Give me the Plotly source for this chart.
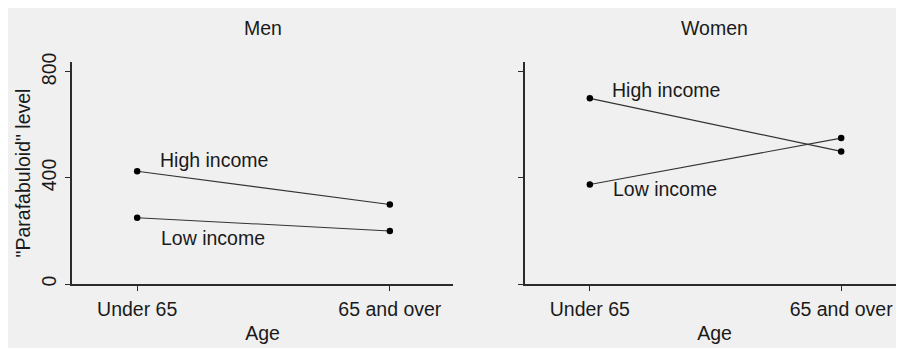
import plotly.graph_objects as go

age_groups = ["Under 65", "65 and over"]
men_high = [425, 300]
men_low = [250, 200]
women_high = [700, 500]
women_low = [375, 550]
panel_titles = ["Men", "Women"]
series_labels = ["High income", "Low income"]
y_ticks = [0, 400, 800]

FONT = "Liberation Sans, Arial, sans-serif"
FS = 19.5
TXT = "#1a1a1a"
LINE = "#333333"
AX = "#2b2b2b"

# page body has an 8px margin; lay the figure out in page coordinates minus 8
OFF = 8
W, H = 904 - OFF, 350 - OFF
ML = 72 - OFF
MT = 62 - OFF
MB = H - (284 - OFF)
MR = 0
PW = W - ML - MR
PH = H - MT - MB

def px_x(p):
    return (p - OFF - ML) / PW

def px_y(p):
    return ((284 - OFF) - (p - OFF)) / PH

fig = go.Figure()

def add_series(vals, xa, ya):
    fig.add_trace(go.Scatter(
        x=age_groups, y=vals, xaxis=xa, yaxis=ya, mode="lines+markers",
        line=dict(color=LINE, width=1.1),
        marker=dict(color="black", size=6.5),
        showlegend=False, hoverinfo="skip"))

add_series(men_high, "x", "y")
add_series(men_low, "x", "y")
add_series(women_high, "x2", "y2")
add_series(women_low, "x2", "y2")

xcommon = dict(
    type="category", categoryarray=age_groups, range=[-0.258, 1.25],
    showline=True, linecolor=AX, linewidth=1.5, ticks="outside", ticklen=5,
    tickwidth=1.2, tickcolor=AX, showgrid=False, zeroline=False,
    ticklabelstandoff=2,
    tickfont=dict(family=FONT, size=FS, color=TXT),
    title=dict(text="Age", font=dict(family=FONT, size=FS, color=TXT), standoff=7),
)
ycommon = dict(
    range=[0, 837], tickvals=y_ticks, showline=True, linecolor=AX, linewidth=1.5,
    ticks="outside", ticklen=5, tickwidth=1.2, tickcolor=AX, showgrid=False,
    zeroline=False, tickangle=-90, ticklabelstandoff=1,
    tickfont=dict(family=FONT, size=FS, color=TXT),
)

fig.update_layout(
    width=W, height=H, autosize=False,
    margin=dict(l=ML, r=MR, t=MT, b=MB, pad=0),
    paper_bgcolor="#f0f0f0", plot_bgcolor="rgba(0,0,0,0)",
    font=dict(family=FONT, size=FS, color=TXT),
    xaxis=dict(domain=[0, px_x(453)], anchor="y", **xcommon),
    xaxis2=dict(domain=[px_x(525), 1], anchor="y2", **xcommon),
    yaxis=dict(domain=[0, 1], anchor="x", showticklabels=True,
               title=dict(text='"Parafabuloid" level',
                          font=dict(family=FONT, size=FS, color=TXT), standoff=3),
               **ycommon),
    yaxis2=dict(domain=[0, 1], anchor="x2", showticklabels=False, **ycommon),
    shapes=[dict(type="rect", xref="paper", yref="paper", layer="below",
                 x0=px_x(0), x1=px_x(904), y0=px_y(348), y1=px_y(350),
                 fillcolor="white", line=dict(width=0))],
)

# panel titles
for title, (a, b) in zip(panel_titles, [(72, 453), (525, 904)]):
    fig.add_annotation(text=title, xref="paper", yref="paper",
                       x=px_x((a + b) / 2), y=px_y(28), xanchor="center",
                       yanchor="middle", showarrow=False,
                       font=dict(family=FONT, size=FS, color=TXT))

# series labels next to lines
label_pos = [
    ("x", "y", series_labels[0], 0.087, 468),
    ("x", "y", series_labels[1], 0.091, 172),
    ("x2", "y2", series_labels[0], 0.083, 733),
    ("x2", "y2", series_labels[1], 0.089, 360),
]
for xa, ya, t, xv, yv in label_pos:
    fig.add_annotation(text=t, xref=xa, yref=ya, x=xv, y=yv, xanchor="left",
                       yanchor="middle", showarrow=False, borderpad=0,
                       font=dict(family=FONT, size=FS, color=TXT))

fig.write_html("out.html")
